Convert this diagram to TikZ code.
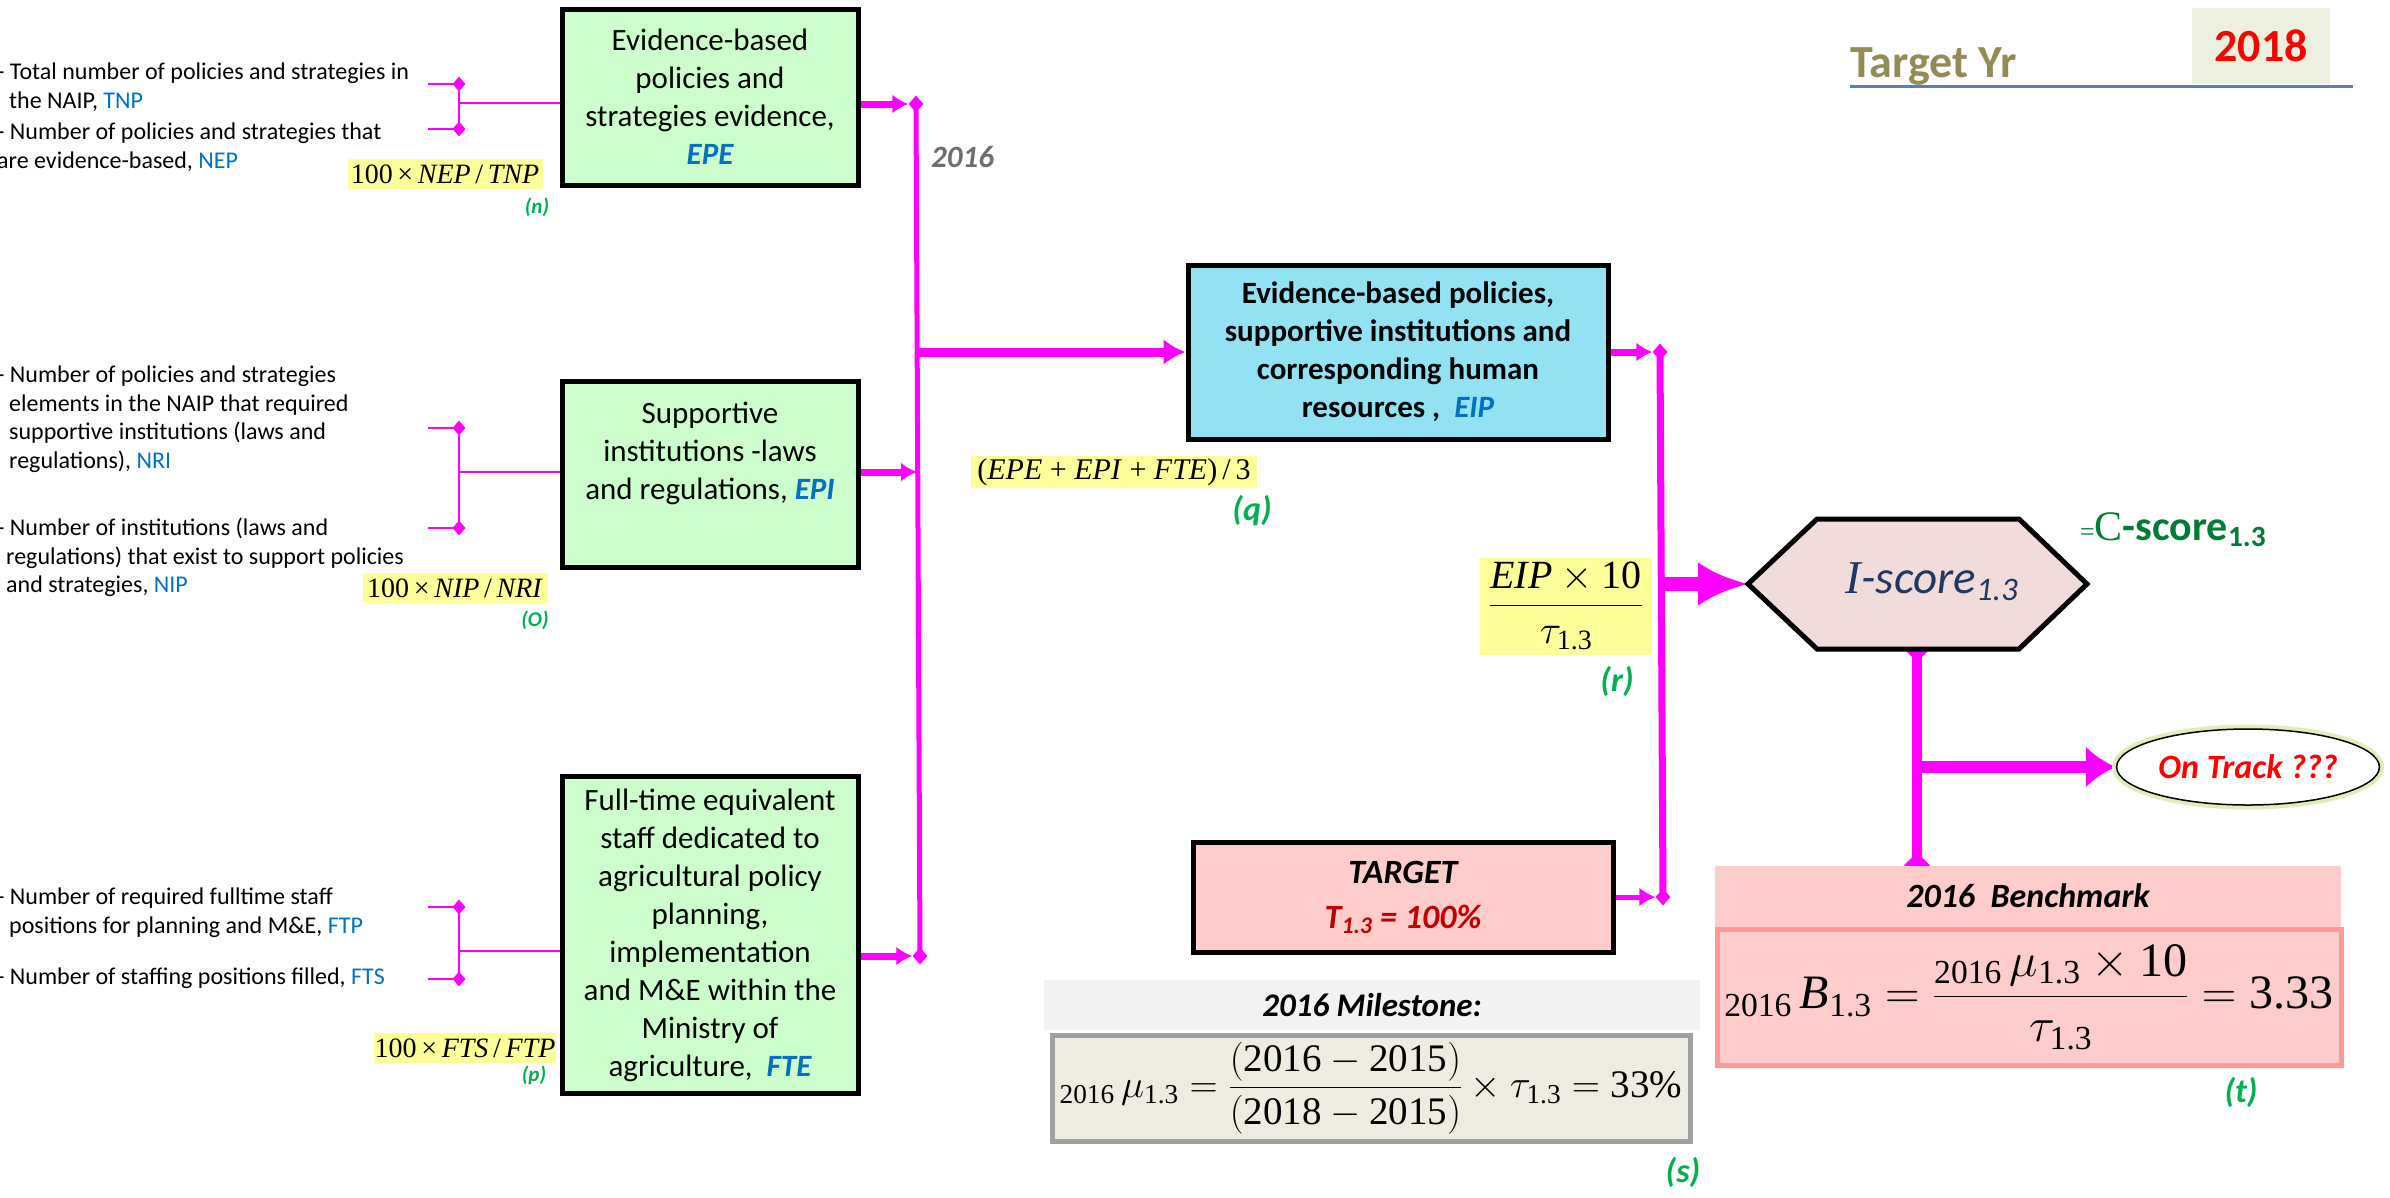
\RequirePackage{fix-cm}
\documentclass[tikz,border=0pt]{standalone}
\usepackage{amsmath}
\usepackage{fontspec}
\setmainfont{Carlito}
\setmathrm{Liberation Serif}
\newfontfamily\serifface{Liberation Serif}
\usetikzlibrary{arrows.meta, shapes.geometric, backgrounds}

\definecolor{pinkline}{RGB}{255,0,255}
\definecolor{varblue}{RGB}{0,112,192}
\definecolor{boxgreen}{RGB}{204,255,204}
\definecolor{boxcyan}{RGB}{146,226,243}
\definecolor{formyellow}{RGB}{255,255,153}
\definecolor{tagreen}{RGB}{0,176,80}
\definecolor{hexfill}{RGB}{242,220,219}
\definecolor{hextext}{RGB}{31,56,100}
\definecolor{cgreen}{RGB}{0,122,55}
\definecolor{pinkfill}{RGB}{255,204,204}
\definecolor{pinkedge}{RGB}{255,153,153}
\definecolor{darkred}{RGB}{192,0,0}
\definecolor{headgray}{RGB}{242,242,242}
\definecolor{milefill}{RGB}{238,236,225}
\definecolor{mileedge}{RGB}{160,160,160}
\definecolor{olive}{RGB}{148,138,84}
\definecolor{yrfill}{RGB}{235,241,222}
\definecolor{ruleblue}{RGB}{79,129,189}
\definecolor{yeargray}{RGB}{110,110,110}
\definecolor{glow}{RGB}{222,238,185}

\newcommand{\fsz}[2]{\fontsize{#1}{#2}\selectfont}
\newcommand{\varname}[1]{\textcolor{varblue}{#1}}
\newcommand{\boxvar}[1]{\textcolor{varblue}{\bfseries\itshape #1}}
\newcommand{\fv}[1]{\mbox{\serifface\itshape #1}}

\tikzset{
  note/.style={anchor=north west, align=left, inner sep=0pt, font={\fsz{24}{28.5}}},
  indbox/.style={draw=black, line width=5pt, fill=boxgreen, align=center, font={\fsz{31}{38}}},
  ratio/.style={fill=formyellow, inner sep=1pt, font={\serifface\fsz{28}{30}}},
  tagsmall/.style={text=tagreen, inner sep=0pt, font={\fsz{21}{24}\bfseries\itshape}},
  tagbig/.style={text=tagreen, inner sep=0pt, font={\fsz{34}{38}\bfseries\itshape}},
  prong/.style={draw=pinkline, line width=1.5pt},
  knob/.style={diamond, fill=pinkline, inner sep=0pt, minimum width=15pt, minimum height=17pt},
  bus/.style={draw=pinkline, line width=5pt},
  feed/.style={draw=pinkline, line width=7pt, -{Latex[length=16pt,width=19pt]}},
  thrust/.style={draw=pinkline, line width=14pt, -{Latex[length=50pt,width=44pt]}},
}

\begin{document}
\begin{tikzpicture}[x=1pt,y=-1pt]
    \useasboundingbox (0,0) rectangle (2390,1197);

    % target year
    \node[anchor=base west, inner sep=0pt, text=olive, font={\fsz{46}{50}\bfseries}] (tyr) at (1850,77) {Target Yr};
    \node[fill=yrfill, minimum width=138, minimum height=76, text=red, font={\fsz{46}{50}\bfseries}] (yr) at (2261,46) {2018};
    \draw[ruleblue, line width=3pt] (1850,86) -- (2353,86);

    % the inputs on the left
    \node[note] (tnp) at (-3,63) {- Total number of policies and strategies in\\\hspace*{12pt}the NAIP, \varname{TNP}};
    \node[note] (nep) at (-3,123) {- Number of policies and strategies that\\are evidence-based, \varname{NEP}};
    \node[note] (nri) at (-3,366) {- Number of policies and strategies\\\hspace*{12pt}elements in the NAIP that required\\\hspace*{12pt}supportive institutions (laws and\\\hspace*{12pt}regulations), \varname{NRI}};
    \node[note] (nip) at (-3,518) {- Number of institutions (laws and\\\hspace*{9pt}regulations) that exist to support policies\\\hspace*{9pt}and strategies, \varname{NIP}};
    \node[note] (ftp) at (-3,888) {- Number of required fulltime staff\\\hspace*{12pt}positions for planning and M\&E, \varname{FTP}};
    \node[note] (fts) at (-3,968) {- Number of staffing positions filled, \varname{FTS}};

    % indicator boxes
    \node[indbox, minimum width=296, minimum height=176] (epe) at (710,97) {Evidence-based\\policies and\\strategies evidence,\\\boxvar{EPE}};
    \node[indbox, minimum width=296, minimum height=186] (epi) at (710,474) {Supportive\\institutions -laws\\and regulations, \boxvar{EPI}\\[8pt]\mbox{}};
    \node[indbox, minimum width=296, minimum height=317] (fte) at (710,935) {Full-time equivalent\\staff dedicated to\\agricultural policy\\planning,\\implementation\\and M\&E within the\\Ministry of\\agriculture,\ \ \boxvar{FTE}};
    \node[indbox, fill=boxcyan, font={\fsz{31}{38}\bfseries}, minimum width=420, minimum height=174] (eip) at (1398,352) {Evidence-based policies,\\supportive institutions and\\corresponding human\\resources ,\ \ \textcolor{varblue}{\itshape EIP}};
    \node[indbox, fill=pinkfill, font={\fsz{34}{45}\bfseries\itshape}, minimum width=420, minimum height=110] (target) at (1403,897) {TARGET\\\textcolor{darkred}{T\textsubscript{1.3} = 100\%}};

    % formulas
    \node[ratio, minimum width=195, minimum height=30] (fn) at (445,174) {100\,×\,\textit{NEP}\,/\,\textit{TNP}};
    \node[ratio, minimum width=185, minimum height=30] (fo) at (455,588) {100\,×\,\textit{NIP}\,/\,\textit{NRI}};
    \node[ratio, minimum width=172, minimum height=30] (fp) at (465,1048) {100\,×\,\textit{FTS}\,/\,\textit{FTP}};
    \node[ratio, minimum width=286, minimum height=32, font={\serifface\fsz{30}{32}}] (fq) at (1114,472) {(\textit{EPE} + \textit{EPI} + \textit{FTE})\,/\,3};
    \node[ratio, minimum width=172, minimum height=97, font={\serifface\fsz{40}{44}}] (fr) at (1566,606) {$\displaystyle\frac{\fv{EIP}\times\text{10}}{\tau_{\text{1.3}}}$};

    \node[tagsmall] (tn) at (537,207) {(n)};
    \node[tagsmall] (to) at (535,620) {(O)};
    \node[tagsmall] (tp) at (534,1075) {(p)};
    \node[tagbig] (tq) at (1252,511) {(q)};
    \node[tagbig] (tr) at (1617,681) {(r)};
    \node[tagbig] (ts) at (1683,1172) {(s)};
    \node[tagbig] (tt) at (2241,1092) {(t)};
    \node[anchor=base west, inner sep=0pt, text=yeargray, font={\fsz{31}{34}\bfseries\itshape}] (yr16) at (931,167) {2016};

    % score hexagon
    \draw[line width=5pt, fill=hexfill] (1748,584) -- (1817,519) -- (2019,519) -- (2087,584) -- (2019,649) -- (1817,649) -- cycle;
    \coordinate (hexw) at (1748,584);
    \coordinate (hexs) at (1917,649);
    \node[text=hextext, font={\fsz{47}{50}\itshape}] (iscore) at (1932,582) {{\serifface I}-score\textsubscript{1.3}};
    \node[anchor=base west, inner sep=0pt, text=cgreen, font={\fsz{42}{46}\bfseries}] (cscore) at (2080,540) {{\serifface\mdseries\fsz{26}{28}=}{\serifface\mdseries C}-score\textsubscript{1.3}};

    \node[ellipse, draw=black, line width=1.5pt, fill=white, preaction={draw=glow, line width=9pt}, minimum width=262, minimum height=76, text=red, font={\fsz{34}{38}\bfseries\itshape}] (track) at (2248,767) {On Track ???};

    % milestone and benchmark
    \node[fill=headgray, minimum width=656, minimum height=50, font={\fsz{33}{36}\bfseries\itshape}] (mhead) at (1372,1005) {2016 Milestone:};
    \node[draw=mileedge, fill=milefill, line width=5pt, minimum width=638, minimum height=106, inner sep=0pt, font={\serifface\fsz{39}{42}}] (mbox) at (1371,1088) {$\displaystyle {}_{\text{2016}}\,\mu_{\text{1.3}}=\frac{(\text{2016}-\text{2015})}{(\text{2018}-\text{2015})}\times\tau_{\text{1.3}}=\text{33\%}$};
    \node[fill=pinkfill, minimum width=626, minimum height=61, font={\fsz{34}{38}\bfseries\itshape}] (bhead) at (2028,896) {2016\ \ Benchmark};
    \node[draw=pinkedge, fill=pinkfill, line width=5pt, minimum width=624, minimum height=136, font={\serifface\fsz{48}{52}}] (bbox) at (2029,997) {$\displaystyle {}_{\text{2016}}\,\fv{B}_{\text{1.3}}=\frac{{}_{\text{2016}}\,\mu_{\text{1.3}}\times\text{10}}{\tau_{\text{1.3}}}=\text{3.33}$};

    \begin{scope}[on background layer]
        % brackets of the inputs
        \foreach \t/\b/\m/\dest in {84/129/103/epe, 428/528/472/epi, 907/979/951/fte} {
            \draw[prong] (428,\t) -- (459,\t) -- (459,\b) -- (428,\b);
            \node[knob, minimum width=13pt, minimum height=15pt] (ka\t) at (459,\t) {};
            \node[knob, minimum width=13pt, minimum height=15pt] (kb\t) at (459,\b) {};
            \draw[prong] (459,\m) -- (\dest.west |- 0,\m);
        }

        % first bus
        \node[knob] (b1top) at (916,104) {};
        \coordinate (b1mid) at (917,472);
        \node[knob] (b1bot) at (920,956) {};
        \draw[bus] (b1top.center) -- (b1bot.center);
        \draw[feed] (epe.east |- b1top) -- (b1top.west);
        \draw[feed] (epi.east |- b1mid) -- (b1mid);
        \draw[feed] (fte.east |- b1bot) -- (b1bot.west);
        \draw[feed, line width=9pt, -{Latex[length=22pt,width=26pt]}] (b1top |- eip.west) -- (eip.west);

        % second bus
        \node[knob] (b2top) at (1660,352) {};
        \node[knob] (b2bot) at (1663,897) {};
        \draw[bus, line width=7pt] (b2top.center) -- (b2bot.center);
        \draw[feed] (eip.east) -- (b2top.west);
        \draw[feed, line width=5pt] (target.east) -- (b2bot.west);
        \draw[thrust] (b2top |- hexw) -- (hexw);

        % score to benchmark and on track
        \draw[pinkline, line width=10pt] (hexs) -- (hexs |- bhead.north);
        \node[knob, minimum width=26pt, minimum height=26pt] (ks) at (hexs) {};
        \node[knob, minimum width=26pt, minimum height=26pt] (kb) at (hexs |- bhead.north) {};
        \coordinate (fork) at (1917,767);
        \draw[pinkline, line width=12pt, -{Latex[length=30pt,width=42pt]}] (fork) -- (track.west);
    \end{scope}
\end{tikzpicture}
\end{document}
